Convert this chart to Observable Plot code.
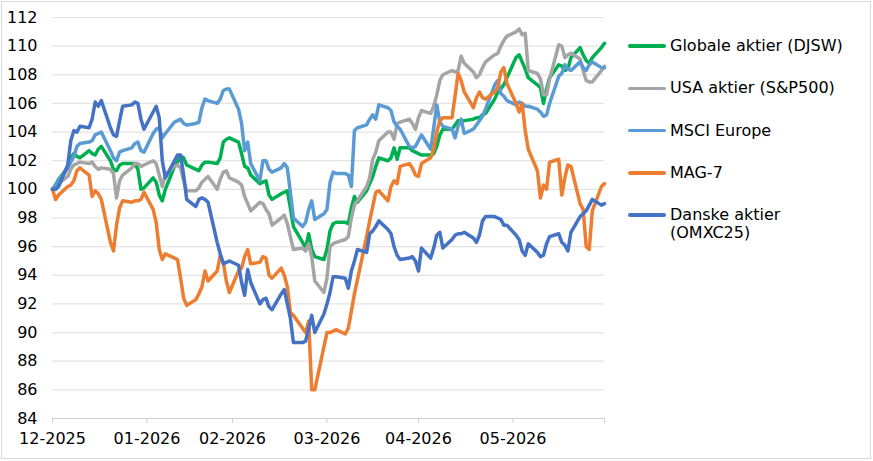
<!DOCTYPE html>
<html>
<head>
<meta charset="utf-8">
<script src="https://cdn.jsdelivr.net/npm/d3@7"></script>
<script src="https://cdn.jsdelivr.net/npm/@observablehq/plot@0.6"></script>
<style>
  body { margin: 0; background: #fff; font-family: "DejaVu Sans", Verdana, sans-serif; }
  #chart { position: relative; width: 873px; height: 461px; overflow: hidden; background: #fff; }
  #chart svg { position: absolute; left: 0; top: 0; }
  #frame { position: absolute; left: 1px; top: 1px; width: 870px; height: 458px;
           border: 1px solid #d9d9d9; box-sizing: border-box; pointer-events: none; }
  .swatch { position: absolute; left: 628px; width: 38px; height: 3.5px; border-radius: 2px; }
  .label { position: absolute; left: 670px; width: 185px; font-size: 16px; line-height: 18px; color: #000; }
</style>
</head>
<body>
<div id="chart"><div id="frame"></div></div>
<script>
// Index level, 31-12-2025 = 100, one value per trading day
const seriesNames = ["Globale aktier (DJSW)", "USA aktier (S&P500)", "MSCI Europe", "MAG-7", "Danske aktier (OMXC25)"];
const seriesColors = ["#00B050", "#A5A5A5", "#5B9BD5", "#ED7D31", "#4472C4"];

const firstDay = "2025-12-31";
const lastDay = "2026-06-30";

const tickDates = ["2025-12-31", "2026-01-31", "2026-02-28", "2026-03-31", "2026-04-30", "2026-05-31", "2026-06-30"];
const tickLabels = ["12-2025", "01-2026", "02-2026", "03-2026", "04-2026", "05-2026", ""];
const yTicks = [84, 86, 88, 90, 92, 94, 96, 98, 100, 102, 104, 106, 108, 110, 112];

const globale = [
  100.0, 100.3, 100.7,
  101.5, 102.2, 102.5, 102.3, 102.2,
  102.7, 102.5, 102.4, 102.8, 103.0,
  102.0, 101.4, 101.3, 101.7, 101.8,
  101.8, 101.8, 101.4, 100.0, 100.1,
  100.8, 100.5, 99.6, 99.2, 100.0,
  101.6, 101.9, 102.3, 102.2, 101.7,
  101.4, 101.3, 101.7, 101.9, 101.9,
  101.8, 102.2, 103.3, 103.5, 103.6,
  103.3, 102.5, 101.6, 101.5, 101.0,
  100.4, 100.5, 100.6, 99.6, 99.3,
  99.7, 99.8, 99.9, 98.7, 97.4,
  96.3, 95.9, 96.9, 95.8, 95.3,
  95.1, 95.8, 97.1, 97.6, 97.7,
  97.7, 97.6, 98.7, 99.5, 99.1,
  99.9, 100.4, 100.9, 101.6, 102.2,
  102.0, 102.2, 102.9, 102.1, 102.9,
  102.9, 102.7, 102.6, 102.5, 102.4,
  102.4, 102.5, 103.0, 103.8, 104.2,
  104.2, 104.5, 104.8, 104.7, 104.8,
  104.9, 105.0, 105.0, 105.2, 105.3,
  106.3, 106.8, 107.0, 107.3, 107.8,
  109.2, 109.4, 108.9, 108.4, 107.8,
  107.3, 107.1, 106.0, 107.0, 107.8,
  108.7, 108.6, 108.3, 108.4, 109.2,
  109.9, 109.4, 109.0, 108.8, 109.2,
  109.9, 110.2
];

const usa = [
  100.0, 100.1, 100.4,
  100.9, 101.4, 101.7, 101.8, 101.9,
  101.8, 101.9, 101.6, 101.4, 101.5,
  101.4, 101.1, 99.4, 100.6, 101.0,
  101.5, 101.8, 101.8, 101.6, 101.7,
  102.0, 101.8, 101.0, 100.2, 101.0,
  101.6, 101.7, 101.5, 100.6, 99.9,
  99.9, 100.1, 100.5, 100.7, 100.9,
  100.0, 100.7, 101.2, 101.3, 100.8,
  100.5, 100.3, 99.5, 99.0, 98.5,
  99.1, 99.0, 98.6, 98.3, 97.5,
  98.0, 98.2, 97.6, 96.7, 95.8,
  95.9, 95.7, 96.2, 95.3, 93.6,
  92.8, 93.8, 96.0, 96.2, 96.3,
  96.5, 96.7, 98.0, 98.9, 99.2,
  100.2, 100.8, 102.1, 102.6, 103.4,
  104.0, 104.0, 103.5, 104.6, 104.7,
  104.9, 104.6, 104.2, 105.0, 105.5,
  105.3, 105.8, 106.6, 107.6, 108.0,
  108.3, 108.2, 108.3, 109.3, 108.8,
  108.2, 107.8, 108.0, 108.5, 108.9,
  109.4, 109.5, 110.0, 110.4, 110.7,
  111.0, 111.2, 110.8, 110.9, 108.3,
  108.1, 107.7, 106.6, 106.6, 107.7,
  110.1, 110.0, 109.2, 109.4, 109.5,
  109.1, 108.3, 107.6, 107.5, 107.5,
  108.3, 108.6
];

const europe = [
  100.0, 100.3, 100.6,
  101.5, 101.9, 102.3, 103.0, 103.2,
  103.3, 103.4, 103.8, 103.9, 104.0,
  102.7, 102.2, 102.0, 102.6, 102.7,
  102.9, 103.2, 103.3, 102.7, 102.6,
  103.9, 104.2, 104.3, 103.6, 103.9,
  104.7, 104.8, 104.9, 104.6, 104.5,
  104.6, 104.7, 105.7, 106.3, 106.2,
  106.0, 106.3, 106.9, 107.0, 107.0,
  105.6, 104.6, 102.7, 103.3, 101.8,
  100.6, 102.0, 102.0, 101.4, 101.2,
  101.5, 101.8, 101.5, 99.8, 98.0,
  97.4, 97.7, 98.6, 99.2, 97.9,
  98.3, 98.6, 100.5, 101.2, 101.1,
  101.1, 101.0, 100.2, 104.1, 104.3,
  104.5, 104.9, 105.2, 104.9, 105.9,
  105.7, 105.5, 104.7, 104.4, 104.2,
  103.0, 102.9, 103.0, 103.4, 103.8,
  102.8, 104.3, 105.9, 104.7, 104.4,
  104.2, 103.6, 104.4, 104.9, 103.9,
  104.2, 104.5, 104.8, 105.1, 105.6,
  107.3, 107.6, 106.7, 106.5, 106.2,
  105.9, 106.1, 106.0, 105.8, 105.8,
  105.6, 105.4, 105.1, 105.2, 106.0,
  107.9, 108.1, 108.7, 108.4, 108.3,
  108.9, 108.5, 108.3, 108.7, 108.9,
  108.5, 108.5
];

const mag7 = [
  100.0, 99.3, 99.6,
  100.2, 100.3, 100.6, 101.3, 101.5,
  101.0, 99.5, 99.9, 99.7, 99.3,
  96.3, 95.7, 97.5, 98.7, 99.2,
  99.1, 99.2, 99.2, 99.3, 99.8,
  98.6, 97.7, 95.8, 95.1, 95.5,
  95.2, 95.1, 93.8, 92.4, 91.9,
  92.3, 92.7, 93.2, 94.3, 93.6,
  94.3, 95.4, 94.9, 93.6, 92.8,
  94.3, 94.5, 95.3, 95.8, 94.8,
  94.9, 95.3, 95.2, 94.0, 93.8,
  94.5, 94.0, 93.2, 91.4, 91.2,
  90.3, 90.0, 90.8, 86.0, 86.0,
  89.0, 90.0, 90.0, 90.1, 90.2,
  89.9, 90.3, 91.5, 92.7, 93.7,
  96.7, 97.8, 98.8, 99.8, 99.9,
  99.2, 100.2, 100.6, 100.4, 101.6,
  101.8, 101.5, 101.0, 100.9, 101.8,
  102.2, 102.8, 104.0, 104.8, 105.0,
  105.0, 106.5, 108.1, 107.6, 106.8,
  105.7, 106.4, 106.8, 106.4, 106.3,
  106.8, 107.1, 108.2, 108.5, 107.4,
  106.0, 105.4, 106.0, 104.1, 102.8,
  101.3, 99.4, 100.3, 100.0, 101.9,
  102.1, 99.6, 100.8, 101.7, 101.6,
  99.0, 98.6, 96.0, 95.8, 98.5,
  100.2, 100.4
];

const danske = [
  100.0, 100.0, 100.2,
  101.7, 103.4, 104.1, 104.0, 104.4,
  104.3, 104.9, 106.1, 105.8, 106.2,
  104.3, 103.8, 103.7, 104.8, 105.8,
  105.9, 106.1, 106.0, 104.9, 104.2,
  105.4, 105.8, 105.0, 102.0, 100.8,
  102.0, 102.4, 102.4, 101.0, 99.3,
  98.8, 99.3, 99.4, 99.3, 99.1,
  96.3, 95.5, 94.8, 94.9, 95.0,
  94.7, 93.5, 92.6, 94.4, 93.5,
  92.0, 92.3, 92.4, 91.8, 91.6,
  92.7, 93.0, 92.0, 91.0, 89.3,
  89.3, 89.4, 90.3, 91.2, 90.0,
  91.3, 92.0, 92.8, 93.9, 93.9,
  93.8, 93.1, 94.3, 95.0, 95.8,
  95.6, 96.9, 97.1, 97.4, 97.8,
  97.2, 96.9, 96.0, 95.4, 95.1,
  95.2, 95.3, 95.0, 94.3, 95.9,
  95.2, 95.9, 96.8, 97.0, 95.9,
  96.5, 96.8, 96.9, 96.9, 97.0,
  96.6, 96.3, 96.8, 97.8, 98.1,
  98.1, 98.0, 97.9, 97.5, 97.5,
  96.8, 96.5, 95.7, 95.4, 96.2,
  95.6, 95.3, 95.4, 96.2, 96.7,
  96.9, 96.3, 96.1, 95.7, 97.0,
  98.1, 98.3, 98.5, 98.9, 99.3,
  98.9, 99.0
];

const seriesValues = [globale, usa, europe, mag7, danske];

// Trading days (weekdays) between the first and last observation
const tradingDays = d3.utcDay
  .range(new Date(firstDay), d3.utcDay.offset(new Date(lastDay), 1))
  .filter(d => d.getUTCDay() !== 0 && d.getUTCDay() !== 6);

const rows = seriesNames.flatMap((name, s) =>
  seriesValues[s].map((value, i) => ({ date: tradingDays[i], value, name }))
).filter(r => r.date);

const tickTimes = tickDates.map(d => new Date(d));
const labelByTime = new Map(tickTimes.map((t, i) => [+t, tickLabels[i]]));

const plot = Plot.plot({
  width: 873,
  height: 461,
  marginLeft: 52,
  marginRight: 269,
  marginTop: 17,
  marginBottom: 43,
  style: { fontFamily: "'DejaVu Sans', Verdana, sans-serif", fontSize: "16px", color: "#000", background: "transparent" },
  x: { type: "utc", domain: [tickTimes[0], tickTimes[tickTimes.length - 1]] },
  y: { domain: [84, 112] },
  color: { domain: seriesNames, range: seriesColors },
  marks: [
    Plot.gridY(yTicks.slice(1), { stroke: "#e4e4e4", strokeOpacity: 1, strokeWidth: 1.2 }),
    Plot.ruleY([84], { stroke: "#d0d0d0", strokeWidth: 1.2 }),
    Plot.axisY(yTicks, { tickSize: 0, tickPadding: 15, label: null }),
    Plot.axisX(tickTimes, {
      tickSize: 5, tickPadding: 9, stroke: "#d0d0d0", label: null,
      tickFormat: d => labelByTime.get(+d) ?? ""
    }),
    Plot.line(rows, {
      x: "date", y: "value", z: "name", stroke: "name",
      strokeWidth: 3.5, strokeLinejoin: "round", strokeLinecap: "round"
    })
  ]
});

const chart = document.getElementById("chart");
chart.insertBefore(plot, chart.firstChild);

// Legend on the right-hand side
const legendLabels = ["Globale aktier (DJSW)", "USA aktier (S&P500)", "MSCI Europe", "MAG-7", "Danske aktier (OMXC25)"];
legendLabels.forEach((label, i) => {
  const cy = 46 + i * 42.3;
  const sw = document.createElement("div");
  sw.className = "swatch";
  sw.style.top = (cy - 1.75) + "px";
  sw.style.background = seriesColors[i];
  chart.appendChild(sw);
  const tx = document.createElement("div");
  tx.className = "label";
  tx.style.top = (cy - 9) + "px";
  tx.textContent = label;
  chart.appendChild(tx);
});
</script>
</body>
</html>
